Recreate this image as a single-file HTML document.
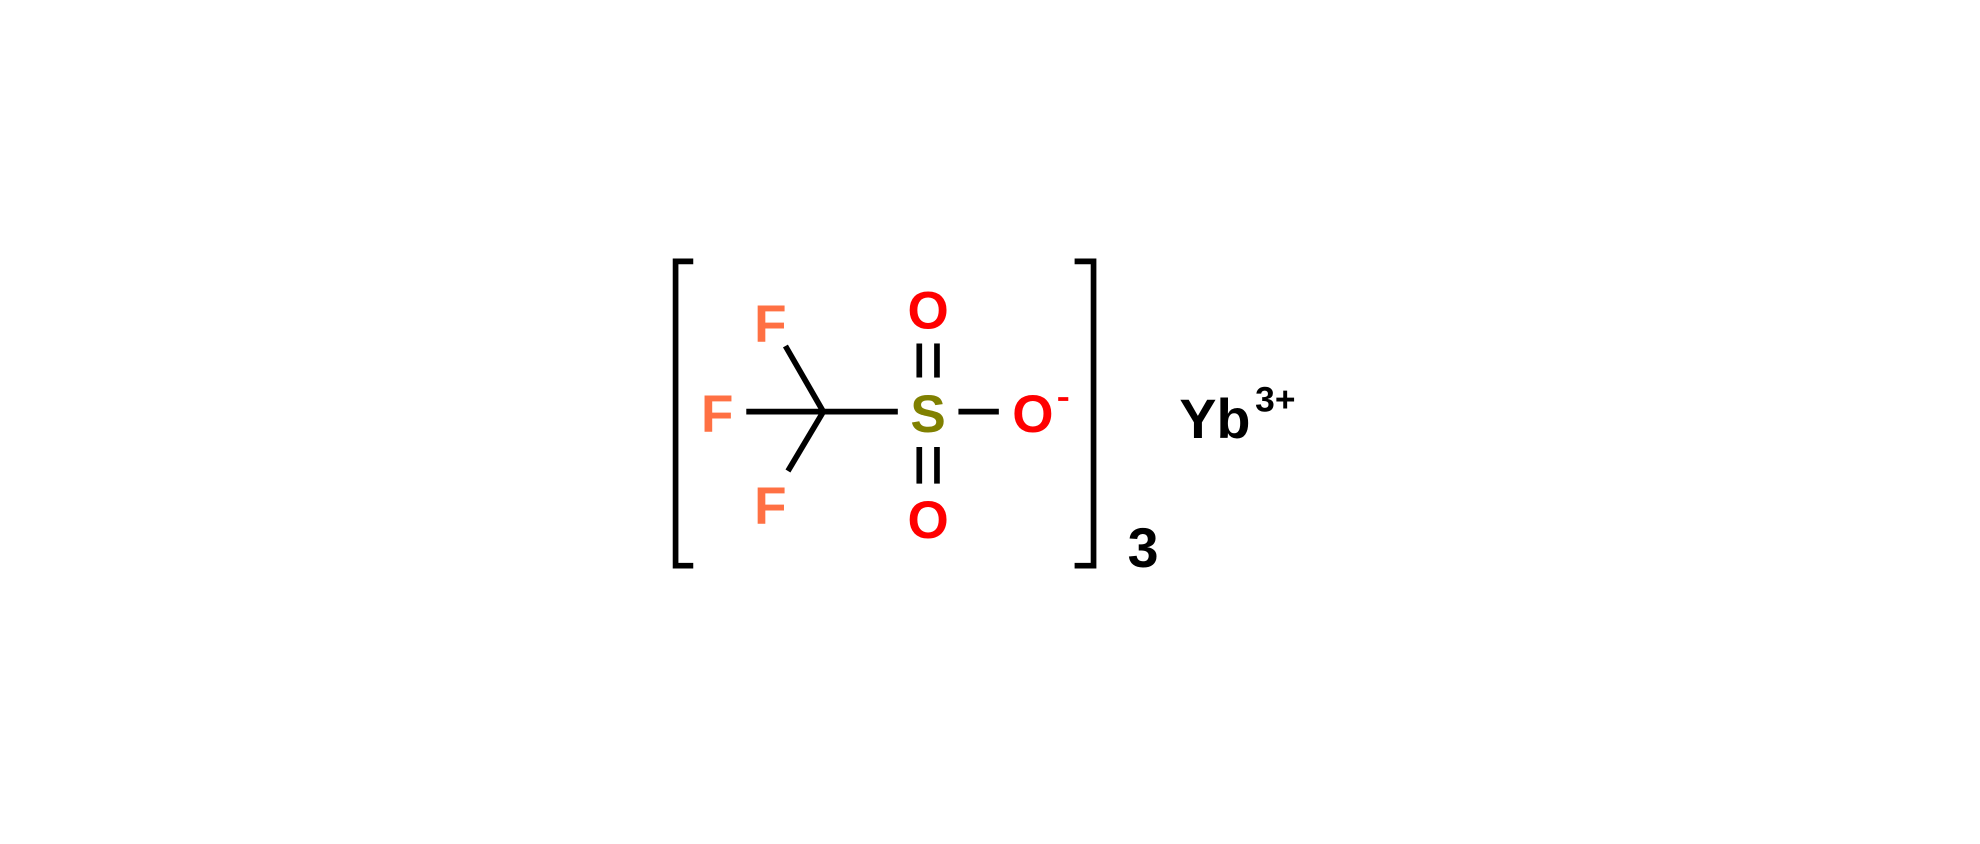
<!DOCTYPE html>
<html><head><meta charset="utf-8"><style>
html,body{margin:0;padding:0;background:#fff;width:1980px;height:844px;overflow:hidden}
svg{display:block}
text{font-family:"Liberation Sans",sans-serif;font-weight:bold}
</style></head><body>
<svg width="1980" height="844" viewBox="0 0 1568 668.4" preserveAspectRatio="none">
<g stroke="#000" stroke-width="4.5" fill="none">
<polyline points="549,207 535,207 535,448 549,448"/>
<polyline points="851,207 866,207 866,448 851,448"/>
<line x1="591" y1="326" x2="652" y2="326"/>
<line x1="652" y1="326" x2="711" y2="326"/>
<line x1="622" y1="274" x2="652" y2="326"/>
<line x1="624" y1="373" x2="652" y2="326"/>
<line x1="759" y1="326" x2="791" y2="326"/>
<line x1="728" y1="272" x2="728" y2="299"/>
<line x1="742" y1="272" x2="742" y2="299"/>
<line x1="728" y1="354" x2="728" y2="383"/>
<line x1="742" y1="354" x2="742" y2="383"/>
</g>
<line x1="838" y1="316" x2="846" y2="316" stroke="#f00" stroke-width="3"/>
<g font-size="42" text-anchor="middle">
<text x="610" y="271" fill="#ff7043">F</text>
<text x="568" y="342" fill="#ff7043">F</text>
<text x="610" y="415" fill="#ff7043">F</text>
<text x="735" y="260" fill="#f00">O</text>
<text x="735" y="426" fill="#f00">O</text>
<text x="818" y="342" fill="#f00">O</text>
<text x="735" y="342" fill="#808000">S</text>
</g>
<text x="934" y="347" font-size="44" fill="#000">Yb</text>
<text x="994" y="326" font-size="28" fill="#000">3+</text>
<text x="893" y="449" font-size="44" fill="#000">3</text>
</svg>
</body></html>
